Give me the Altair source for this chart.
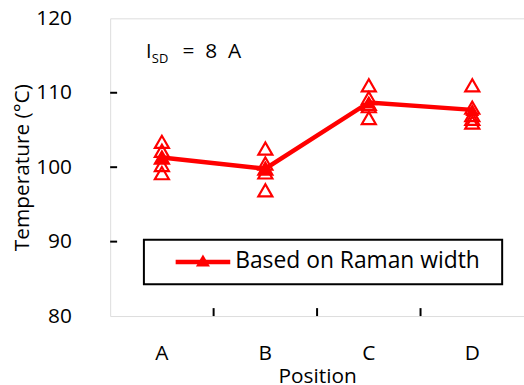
import altair as alt
import pandas as pd

positions = ["A", "B", "C", "D"]
# individual measurements (open triangles)
meas_A = [103.4, 102.2, 101.3, 100.3, 99.2]
meas_B = [102.5, 100.5, 99.8, 99.3, 96.9]
meas_C = [111.0, 109.3, 108.5, 108.2, 106.6]
meas_D = [111.0, 108.0, 107.0, 106.5, 106.0]
# averages (filled triangles + line)
means = [101.3, 99.8, 108.7, 107.7]
y_ticks = [80, 90, 100, 110, 120]
inner_y_ticks = [90, 100, 110]
boundary_ticks = ["B", "C", "D"]
legend_label = "Based on Raman width"

FONT = "Open Sans"
RED = "#FF0000"
W, H = 417, 300

rows = []
for p, vals in zip(positions, [meas_A, meas_B, meas_C, meas_D]):
    for v in vals:
        rows.append({"pos": p, "temp": v})
df_meas = pd.DataFrame(rows)
df_mean = pd.DataFrame({"pos": positions, "temp": means})
df_bt = pd.DataFrame({"pos": boundary_ticks})
df_yt = pd.DataFrame({"temp": inner_y_ticks})

xscale = alt.Scale(domain=positions, paddingInner=0, paddingOuter=0)
yscale = alt.Scale(domain=[80, 120], nice=False, zero=False)

xaxis = alt.Axis(title="Position", labelAngle=0, ticks=False, domain=False, grid=False,
                 labelFont=FONT, labelFontSize=21, labelColor="#000", labelPadding=27,
                 titleFont=FONT, titleFontSize=21, titleFontWeight="normal", titleColor="#000",
                 titlePadding=2)
yaxis = alt.Axis(title="Temperature (°C)", values=y_ticks, ticks=False, domain=False, grid=False,
                 labelFont=FONT, labelFontSize=21, labelColor="#000", labelPadding=39,
                 titleFont=FONT, titleFontSize=21, titleFontWeight="normal", titleColor="#000",
                 titlePadding=3)

base_x = alt.X("pos:N", scale=xscale, axis=xaxis)
base_y = alt.Y("temp:Q", scale=yscale, axis=yaxis)

open_pts = alt.Chart(df_meas).mark_point(shape="triangle-up", filled=False, color=RED,
                                         strokeWidth=2.2, size=200, opacity=1).encode(x=base_x, y=base_y)
line = alt.Chart(df_mean).mark_line(color=RED, strokeWidth=4.5).encode(x=base_x, y=base_y)
filled_pts = alt.Chart(df_mean).mark_point(shape="triangle-up", filled=True, color=RED,
                                           size=200, opacity=1).encode(x=base_x, y=base_y)

xticks = alt.Chart(df_bt).mark_rule(color="black", strokeWidth=2).encode(
    x=alt.X("pos:N", scale=xscale, axis=xaxis, bandPosition=0),
    y=alt.value(H), y2=alt.value(H - 8))
yticks = alt.Chart(df_yt).mark_rule(color="black", strokeWidth=2).encode(
    y=alt.Y("temp:Q", scale=yscale, axis=yaxis),
    x=alt.value(0), x2=alt.value(7))

one = pd.DataFrame({"label": [legend_label]})
leg_box = alt.Chart(one).mark_rect(fill="white", stroke="black", strokeWidth=2).encode(
    x=alt.value(34), x2=alt.value(395), y=alt.value(223), y2=alt.value(268))
leg_line = alt.Chart(one).mark_rule(color=RED, strokeWidth=4.5).encode(
    x=alt.value(66), x2=alt.value(121), y=alt.value(245.5))
leg_tri = alt.Chart(one).mark_point(shape="triangle-up", filled=True, color=RED, size=200, opacity=1).encode(
    x=alt.value(93.5), y=alt.value(244))
leg_text = alt.Chart(one).mark_text(align="left", baseline="middle", font=FONT, fontSize=23, color="#000").encode(
    x=alt.value(126), y=alt.value(245), text="label:N")

ann_I = alt.Chart(pd.DataFrame({"t": ["I"]})).mark_text(align="left", baseline="alphabetic", font=FONT,
                                                      fontSize=20, color="#000").encode(
    x=alt.value(36), y=alt.value(40), text="t:N")
ann_SD = alt.Chart(pd.DataFrame({"t": ["SD"]})).mark_text(align="left", baseline="alphabetic", font=FONT,
                                                        fontSize=13, color="#000").encode(
    x=alt.value(42), y=alt.value(45), text="t:N")
ann_rest = alt.Chart(pd.DataFrame({"t": ["=\u00a0 8\u00a0 A"]})).mark_text(align="left", baseline="alphabetic",
                                                                          font=FONT, fontSize=21, color="#000").encode(
    x=alt.value(73), y=alt.value(40), text="t:N")

chart = alt.layer(open_pts, line, filled_pts, xticks, yticks, leg_box, leg_line, leg_tri, leg_text,
                  ann_I, ann_SD, ann_rest).properties(
    width=W, height=H,
    autosize=alt.AutoSizeParams(type="none"),
    padding={"left": 111, "top": 17, "right": 0, "bottom": 68},
).configure_view(stroke="black", strokeWidth=2).configure(background="white")

chart.save("out.html", embed_options={"renderer": "svg", "actions": False})
